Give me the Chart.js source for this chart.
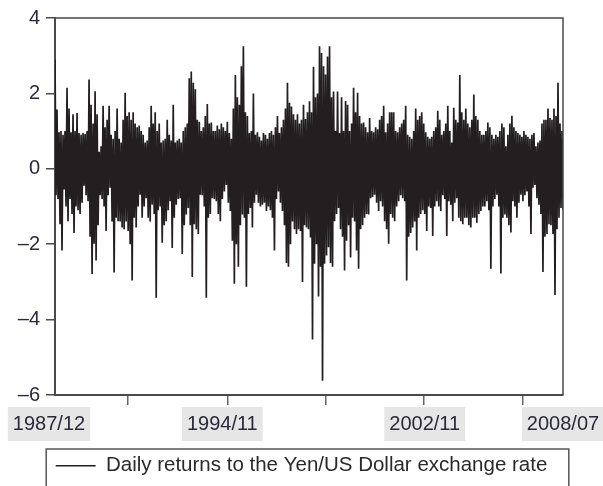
<!DOCTYPE html>
<html>
<head>
<meta charset="utf-8">
<script src="https://cdn.jsdelivr.net/npm/chart.js@4/dist/chart.umd.min.js"></script>
<style>
  html, body { margin: 0; padding: 0; background: #fff; }
  #wrap { width: 603px; height: 486px; position: relative; }
</style>
</head>
<body>
<div id="wrap"><canvas id="returns-chart"></canvas></div>
<script>
// Yen/US Dollar daily returns, read off the picture as pairs of
// upper / lower excursions (one pair every two pixels of the original)
const upperReturns = [
  2.9, 1.57, 0.97, 1.0, 0.9, 1.0, 2.15, 1.6, 0.97, 1.45,
  1.0, 1.48, 0.95, 0.9, 0.95, 0.92, 1.0, 2.37, 1.7, 1.2,
  2.06, 1.45, 0.45, 0.6, 1.67, 1.1, 1.3, 1.67, 0.9, 0.8,
  1.0, 1.6, 0.8, 0.7, 1.3, 2.02, 1.4, 1.5, 1.3, 1.5,
  1.2, 1.1, 1.15, 1.0, 0.9, 0.7, 0.75, 1.1, 1.67, 1.2,
  1.5, 1.0, 1.2, 0.7, 0.75, 0.8, 1.3, 0.9, 0.75, 1.7,
  0.7, 0.75, 0.8, 0.7, 1.0, 1.1, 1.2, 2.4, 2.58, 2.28,
  2.11, 1.3, 1.25, 1.0, 1.1, 1.4, 1.72, 1.2, 1.23, 1.0,
  1.0, 1.15, 1.05, 1.2, 1.1, 1.0, 1.25, 0.95, 0.8, 1.6,
  2.49, 1.9, 1.7, 2.72, 3.25, 1.5, 1.4, 0.95, 1.0, 2.0,
  0.9, 0.97, 0.85, 0.75, 0.95, 0.9, 0.8, 0.95, 1.0, 0.9,
  1.1, 1.4, 0.95, 1.1, 1.3, 1.6, 2.28, 1.75, 1.65, 1.45,
  1.3, 1.45, 1.2, 1.3, 1.7, 1.32, 1.5, 1.79, 1.5, 2.71,
  1.9, 2.0, 3.25, 3.07, 2.72, 2.5, 2.98, 3.25, 1.9, 2.05,
  1.0, 2.05, 0.95, 1.9, 1.0, 1.8, 1.7, 1.0, 1.2, 2.15,
  1.5, 2.02, 1.4, 1.2, 1.23, 1.1, 0.97, 1.35, 1.0, 0.97,
  1.1, 1.05, 1.3, 1.4, 1.67, 0.97, 1.2, 1.5, 1.5, 1.5,
  1.0, 0.97, 1.1, 1.2, 1.3, 1.67, 0.9, 0.85, 0.8, 1.0,
  1.6, 1.3, 1.4, 1.5, 1.2, 0.97, 0.85, 0.8, 0.85, 1.0,
  1.1, 1.54, 1.3, 0.9, 1.0, 1.2, 1.67, 1.0, 0.7, 1.62,
  1.3, 1.23, 2.49, 1.5, 1.3, 1.6, 1.2, 1.1, 1.3, 1.97,
  1.4, 1.3, 1.0, 0.9, 0.9, 1.0, 1.23, 1.1, 0.9, 0.8,
  0.9, 0.85, 1.0, 1.2, 1.1, 0.6, 0.9, 1.2, 1.41, 1.1,
  1.0, 0.95, 0.9, 0.85, 1.0, 0.9, 0.85, 0.8, 0.9, 0.95,
  0.6, 0.7, 0.75, 1.2, 1.3, 1.3, 1.6, 1.35, 1.3, 1.6,
  1.4, 2.28, 1.2, 1.0
];
const lowerReturns = [
  -0.7, -0.8, -1.47, -2.17, -0.55, -1.0, -1.39, -0.8, -1.2, -1.7,
  -1.0, -1.1, -1.2, -0.9, -0.45, -0.7, -0.86, -1.8, -2.79, -1.99,
  -2.43, -1.5, -0.7, -0.8, -1.0, -1.65, -0.7, -0.5, -1.4, -2.75,
  -1.3, -1.39, -1.4, -1.56, -1.6, -1.4, -1.65, -2.0, -2.96, -1.3,
  -1.56, -1.0, -0.69, -1.3, -1.0, -0.78, -1.3, -1.4, -0.95, -1.2,
  -3.42, -1.1, -1.0, -1.96, -1.5, -1.39, -1.1, -0.86, -2.1, -1.3,
  -0.95, -0.8, -0.78, -2.26, -1.5, -1.21, -1.04, -1.5, -2.87, -1.47,
  -1.6, -1.73, -0.69, -0.7, -1.0, -3.42, -1.3, -1.2, -0.78, -0.8,
  -0.86, -1.2, -1.39, -0.8, -0.6, -0.43, -0.9, -1.12, -1.91, -3.05,
  -2.0, -2.6, -1.5, -1.21, -1.3, -3.13, -1.2, -1.04, -1.56, -0.9,
  -0.69, -0.9, -1.0, -0.95, -0.9, -1.12, -1.0, -1.1, -1.3, -2.17,
  -0.8, -0.6, -0.9, -1.12, -1.5, -2.5, -2.6, -2.0, -1.4, -1.6,
  -1.73, -1.6, -1.65, -3.0, -1.5, -1.56, -1.6, -1.82, -4.53, -2.52,
  -2.0, -3.39, -2.6, -5.62, -2.52, -2.3, -2.08, -2.5, -2.6, -1.39,
  -1.2, -1.04, -1.6, -1.8, -2.7, -1.91, -1.5, -2.35, -1.3, -1.4,
  -2.17, -2.65, -1.6, -1.5, -1.3, -1.2, -1.21, -0.78, -0.75, -0.69,
  -0.9, -1.12, -0.86, -1.0, -1.39, -1.6, -1.99, -1.2, -1.3, -1.39,
  -1.0, -0.86, -0.7, -0.78, -0.86, -2.96, -1.8, -1.7, -1.56, -1.4,
  -2.17, -1.3, -1.2, -1.1, -1.2, -1.65, -1.0, -1.04, -1.78, -1.0,
  -0.86, -1.0, -1.12, -0.7, -0.8, -1.78, -0.86, -0.95, -1.39, -0.9,
  -0.78, -1.3, -1.39, -1.47, -1.3, -1.3, -1.5, -1.56, -1.3, -1.3,
  -1.43, -1.2, -1.12, -1.0, -1.0, -0.86, -1.1, -2.65, -1.0, -0.8,
  -0.69, -1.0, -2.78, -1.3, -1.21, -1.3, -1.5, -1.69, -0.86, -1.0,
  -1.3, -0.9, -0.69, -0.86, -0.7, -0.6, -1.0, -1.73, -0.5, -0.43,
  -0.78, -0.95, -1.2, -2.74, -1.8, -1.73, -1.47, -1.5, -1.73, -3.35,
  -1.6, -1.3, -1.04, -1.1
];

// axis labels
const dateLabels = ['1987/12', '1994/11', '2002/11', '2008/07'];
const dateLabelIndex = [-6, 167, 369, 507];
const tickMarkIndex = [73, 172, 270, 368, 467];
const seriesName = 'Daily returns to the Yen/US Dollar exchange rate';

// interleave the excursions into one series
const points = [];
upperReturns.forEach((v, k) => {
    points.push({ x: 2 * k, y: v });
    points.push({ x: 2 * k + 1, y: lowerReturns[k] });
});

const FONT = "'Liberation Sans', Arial, Helvetica, sans-serif";

// frame on top/right of the plot and box round the legend
const framePlugin = {
    id: 'frame',
    afterDraw(chart) {
        const ctx = chart.ctx;
        const a = chart.chartArea;
        ctx.save();
        ctx.strokeStyle = '#4a4a4a';
        ctx.lineWidth = 1.5;
        ctx.beginPath();
        ctx.moveTo(a.left, a.top);
        ctx.lineTo(a.right, a.top);
        ctx.lineTo(a.right, a.bottom);
        ctx.stroke();
        const h = chart.legend.legendHitBoxes[0];
        if (h) {
            ctx.strokeStyle = '#555';
            ctx.lineWidth = 1.5;
            ctx.strokeRect(h.left - 9.5, h.top - 6.5, h.width + 31, 60);
        }
        ctx.restore();
    }
};

new Chart(document.getElementById('returns-chart').getContext('2d'), {
    type: 'line',
    data: {
        datasets: [{
            label: seriesName,
            data: points,
            borderColor: '#231f20',
            backgroundColor: '#231f20',
            borderWidth: 1.7,
            borderJoinStyle: 'bevel',
            pointRadius: 0,
            tension: 0
        }]
    },
    options: {
        responsive: true,
        maintainAspectRatio: false,
        animation: false,
        layout: { padding: { top: 14, right: 0, left: 0, bottom: 0 } },
        plugins: {
            tooltip: { enabled: false },
            legend: {
                position: 'bottom',
                labels: {
                    usePointStyle: true,
                    pointStyle: 'line',
                    pointStyleWidth: 40,
                    color: '#2a2a2a',
                    padding: 4.5,
                    font: { family: FONT, size: 20.5 }
                }
            }
        },
        scales: {
            x: {
                type: 'linear',
                min: 0,
                max: points.length - 1,
                afterBuildTicks: scale => {
                    scale.ticks = tickMarkIndex.concat(dateLabelIndex)
                        .sort((a, b) => a - b)
                        .map(v => ({ value: v }));
                },
                afterFit: scale => {
                    scale.height = 56;
                    scale.paddingLeft = 0;
                    scale.paddingRight = 0;
                },
                border: { display: true, color: '#4a4a4a', width: 2 },
                grid: {
                    drawOnChartArea: false,
                    drawTicks: true,
                    tickLength: 10,
                    lineWidth: 1.5,
                    tickColor: c => (c.tick && tickMarkIndex.includes(c.tick.value)) ? '#666' : 'rgba(0,0,0,0)'
                },
                ticks: {
                    autoSkip: false,
                    maxRotation: 0,
                    padding: 7,
                    color: '#2a2a3a',
                    font: { family: FONT, size: 20 },
                    showLabelBackdrop: true,
                    backdropPadding: { x: 5, y: 5 },
                    backdropColor: c => (c.tick && dateLabelIndex.includes(c.tick.value)) ? '#e6e6e6' : 'rgba(0,0,0,0)',
                    callback: v => {
                        const i = dateLabelIndex.indexOf(v);
                        return i >= 0 ? dateLabels[i] : '';
                    }
                }
            },
            y: {
                min: -6,
                max: 4,
                afterFit: scale => { scale.width = 55; },
                border: { display: true, color: '#4a4a4a', width: 2 },
                grid: {
                    drawOnChartArea: false,
                    drawTicks: true,
                    tickLength: 9,
                    lineWidth: 1.5,
                    tickColor: '#4a4a4a'
                },
                ticks: {
                    stepSize: 2,
                    padding: 6,
                    color: '#2a2a3a',
                    font: { family: FONT, size: 20 },
                    callback: v => v < 0 ? '\u2013' + Math.abs(v) : String(v)
                }
            },
            // empty right-hand strip so the plot ends where the original does
            yRight: {
                position: 'right',
                min: -6,
                max: 4,
                afterFit: scale => { scale.width = 40; },
                border: { display: false },
                grid: { display: false, drawTicks: false },
                ticks: { display: false }
            }
        }
    },
    plugins: [framePlugin]
});
</script>
</body>
</html>
